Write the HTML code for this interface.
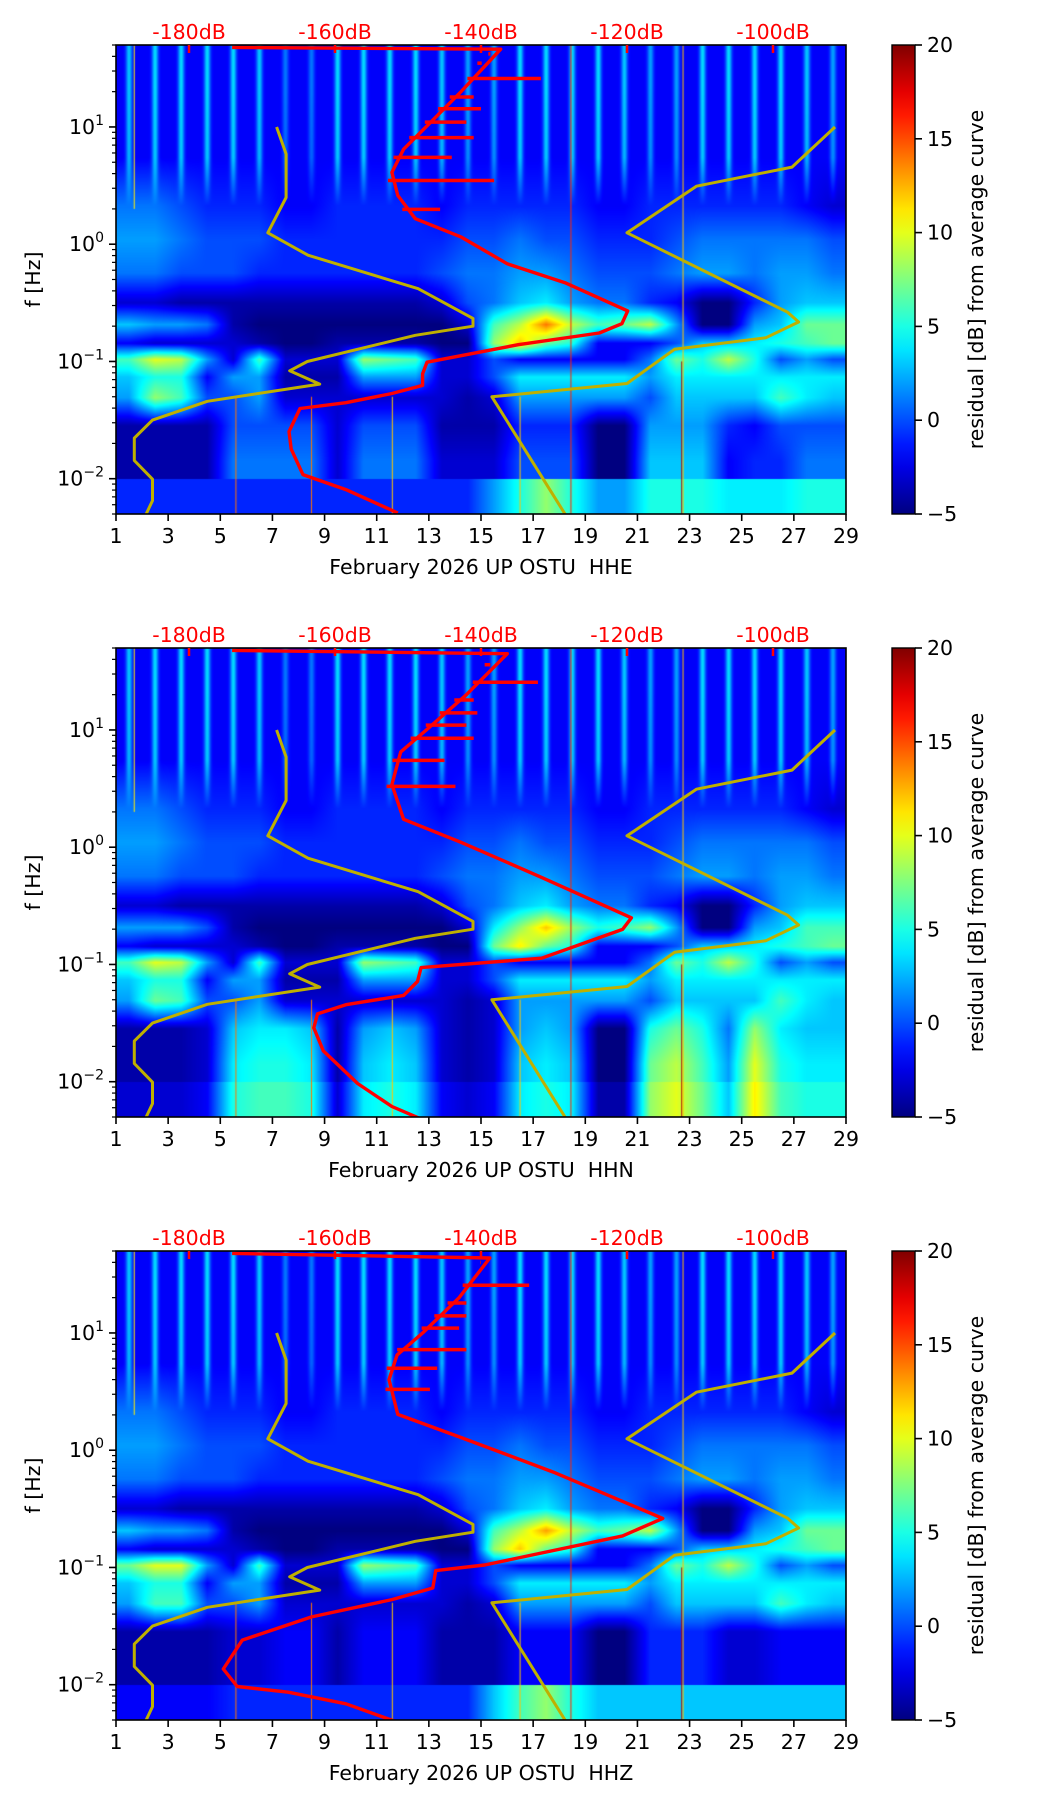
<!DOCTYPE html>
<html><head><meta charset="utf-8">
<style>
html,body{margin:0;padding:0;background:#fff;}
#wrap{position:relative;width:1052px;height:1806px;overflow:hidden;font-family:"DejaVu Sans","Liberation Sans",sans-serif;}
canvas{position:absolute;}
svg{position:absolute;left:0;top:0;}
</style></head>
<body>
<div id="wrap">
<canvas id="c0" width="730" height="469" style="left:116px;top:45px"></canvas>
<canvas id="c1" width="730" height="469" style="left:116px;top:648px"></canvas>
<canvas id="c2" width="730" height="469" style="left:116px;top:1251px"></canvas>
<svg id="svg" width="1052" height="1806"></svg>
</div>
<script>
// ---------- data ----------
const xTickDays = [1,3,5,7,9,11,13,15,17,19,21,23,25,27,29];
const dbTicks = [-180,-160,-140,-120,-100];
const cbTicks = [-5,0,5,10,15,20];
const yTickExp = [-2,-1,0,1];
const components = ["HHE","HHN","HHZ"];
// frequency band edges (Hz) of the coarse residual grid, top to bottom
const rowEdgesHz = [50,10,3,1.5,0.8,0.4,0.25,0.17,0.12,0.09,0.06,0.04,0.02,0.01,0.005];
// daytime cultural noise peak (dB) for 3-50 Hz bands, per day
const dayPeak = [3,3.5,3.5,3.5,3.5,3,1,1,3.5,3.5,3.5,3.5,3,2,2,3.5,3.5,3.5,3.5,3,2,2,3.5,3.5,3.5,3.5,3,2];
const nightBase = -2;
// residual grids (dB), rows 1.5-3Hz ... 0.005-0.01Hz, 28 days each
const gridHHE = [
[1,1,0,-1,-1,-1,-2,-2,-1,-1,-1,-1,-2,-1,-1,-1,-1,-1,-2,-2,-1,-1,-1,-1,-1,-1,-2,-3],
[2,2,1,0,0,0,-1,-1,-1,-1,-1,-1,-1,0,0,1,0,0,-1,-1,-1,0,1,1,1,1,1,0],
[1,1,0,0,0,-1,-1,-1,-1,-1,-1,-1,0,1,1,2,2,1,0,0,0,1,2,2,1,2,2,1],
[-3,-3,-4,-4,-4,-4,-4,-4,-4,-4,-4,-4,-3,0,1,3,4,2,1,1,-1,-2,-5,-5,-1,2,3,3],
[3,2,2,1,-4,-5,-5,-5,-5,-5,-5,-5,-5,-3,6,9,14,9,6,7,9,2,-5,-5,2,3,7,7],
[-2,-3,-3,-3,-3,-4,-5,-5,-4,-4,-4,-4,-5,-5,8,12,7,5,-2,-2,-2,0,3,3,4,5,6,7],
[6,10,9,2,-3,6,-3,-3,-3,8,7,6,-3,-3,0,-2,-2,-2,-2,-2,1,7,5,9,5,0,2,0],
[3,5,5,-2,2,2,-4,-4,-4,2,2,2,-3,-3,0,4,4,4,4,4,2,4,4,4,4,4,4,4],
[2,8,6,0,0,2,-3,-3,-3,-3,-3,-3,-3,-4,-3,2,2,2,2,2,0,3,3,3,3,6,4,3],
[-4,-4,-4,-4,0,0,0,0,-3,0,0,0,-4,-4,-4,-1,-1,-1,-5,-5,2,2,2,-1,-2,0,0,0],
[-4,-4,-4,-4,1,1,1,1,-3,1,1,1,-3,-3,-3,0,0,0,-5,-5,3,3,3,-2,-1,-1,1,1],
[-1,-1,-1,-1,-1,-1,-1,-1,-1,-1,-1,-1,-1,-1,2,5,8,5,2,2,5,5,5,4,4,4,5,5]];
const gridHHN = [
[1,1,0,-1,-1,-1,-2,-2,-1,-1,-1,-1,-2,-1,-1,-1,-1,-1,-2,-2,-1,-1,-1,-1,-1,-1,-2,-3],
[2,2,1,0,0,0,-1,-1,-1,-1,-1,-1,-1,0,0,1,0,0,-1,-1,-1,0,1,1,1,1,1,0],
[1,1,0,0,0,-1,-1,-1,-1,-1,-1,-1,0,1,1,2,2,1,0,0,0,1,2,2,1,2,2,1],
[-3,-3,-4,-4,-4,-4,-4,-4,-4,-4,-4,-4,-3,0,1,3,4,2,1,1,-1,-2,-5,-5,-1,2,3,3],
[2,2,2,0,-4,-5,-5,-5,-5,-5,-5,-5,-5,-3,4,8,12,8,5,6,8,2,-5,-5,2,3,6,6],
[-2,-3,-3,-3,-3,-4,-5,-5,-4,-4,-4,-4,-5,-5,7,11,7,5,-2,-2,-2,0,3,3,4,5,6,7],
[6,10,9,2,-3,6,-3,-3,-3,8,7,6,-3,-3,0,-2,-2,-2,-2,-2,1,7,5,9,5,0,2,0],
[3,5,5,-2,2,2,-4,-4,-4,2,2,2,-3,-3,0,4,4,4,4,4,2,4,4,4,4,4,4,4],
[2,7,6,0,0,2,-3,-3,-3,-3,-3,-3,-3,-4,-3,2,2,2,2,2,0,3,3,3,3,6,4,3],
[-4,-4,-4,-3,3,4,4,3,-4,2,3,2,-3,-4,-3,2,3,2,-5,-5,5,7,5,1,8,4,3,3],
[-4,-4,-4,-3,4,5,5,4,-4,3,4,3,-3,-4,-3,3,4,3,-5,-5,7,9,6,2,10,5,4,4],
[-3,-3,-3,-2,5,6,6,5,-3,4,5,4,-2,-3,-2,4,5,4,-4,-4,8,10,7,3,11,6,5,5]];
const gridHHZ = [
[1,1,0,-1,-1,-1,-2,-2,-1,-1,-1,-1,-2,-1,-1,-1,-1,-1,-2,-2,-1,-1,-1,-1,-1,-1,-2,-3],
[2,2,1,0,0,0,-1,-1,-1,-1,-1,-1,-1,0,0,1,0,0,-1,-1,-1,0,1,1,1,1,1,0],
[1,1,0,0,0,-1,-1,-1,-1,-1,-1,-1,0,1,1,2,2,1,0,0,0,1,2,2,1,2,2,1],
[-3,-3,-4,-4,-4,-4,-4,-4,-4,-4,-4,-4,-3,0,1,3,4,2,1,1,-1,-2,-5,-5,-1,2,3,3],
[3,2,2,1,-4,-5,-5,-5,-5,-5,-5,-5,-5,-3,6,9,13,9,6,7,9,2,-5,-5,2,3,7,7],
[-2,-3,-3,-3,-3,-4,-5,-5,-4,-4,-4,-4,-5,-5,8,12,7,5,-2,-2,-2,0,3,3,4,5,6,7],
[7,10,10,2,-3,6,-3,-3,-3,8,7,6,-3,-3,0,-2,-2,-2,-2,-2,1,7,5,9,5,0,2,0],
[3,5,5,-2,2,2,-4,-4,-4,2,2,2,-3,-3,0,4,4,4,4,4,2,4,4,4,4,4,4,4],
[2,6,6,0,0,2,-3,-3,-3,-3,-3,-3,-3,-4,-3,2,2,2,2,2,0,3,3,3,3,6,4,3],
[-4,-4,-4,-4,-3,-3,-2,-2,-4,-2,-2,-2,-4,-4,-4,-2,-2,-2,-5,-5,-1,-1,-1,-3,-3,-2,-2,-2],
[-4,-4,-4,-4,-3,-3,-2,-2,-4,-2,-2,-2,-4,-4,-4,-2,-2,-2,-5,-5,-1,-1,-1,-3,-3,-2,-2,-2],
[-2,-2,-2,-2,-1,-1,-1,-1,-1,-1,-1,-1,-1,-1,3,6,8,5,3,3,3,3,3,3,3,3,3,3]];
// thin transient streaks: day, fLow, fHigh, dB
const streakDay = [1.7,18.45,22.7,22.75,5.6,11.6,16.5,8.5];
const streakFLo = [2,0.005,0.005,0.005,0.005,0.005,0.005,0.005];
const streakFHi = [50,50,0.1,50,0.05,0.05,0.05,0.05];
const streakDb  = [11,16,19,12,14,12,12,14];
// Peterson noise models
const nlnmHz = [10,5.88,2.5,1.25,0.806,0.417,0.233,0.2,0.167,0.1,0.0833,0.0641,0.0457,0.0316,0.0222,0.0143,0.0099,0.0065,0.00305];
const nlnmDb = [-168,-166.7,-166.7,-169.2,-163.7,-148.6,-141.1,-141.1,-149,-163.8,-166.2,-162.1,-177.5,-185,-187.5,-187.5,-185,-185,-187.5];
const nhnmHz = [10,4.55,3.125,1.25,0.263,0.217,0.159,0.127,0.0649,0.05,0.00282];
const nhnmDb = [-91.5,-97.4,-110.5,-120,-98,-96.5,-101,-113.5,-120,-138.5,-126];
// average PSD curves (dB, Hz)
const redDbHHE = [-174.1,-137.3,-142.7,-147.4,-150.6,-152.2,-151.4,-149.0,-142.7,-136.4,-128.5,-119.9,-120.7,-123.8,-134.9,-147.4,-148.0,-148.0,-152.2,-158.5,-164.8,-166.3,-166.0,-164.4,-158.5,-151.4];
const redHzHHE = [47.7,46,20.1,10.2,6.46,4.1,2.6,1.65,1.15,0.68,0.47,0.27,0.21,0.175,0.139,0.0986,0.0785,0.0625,0.0533,0.0445,0.0397,0.0252,0.0179,0.01085,0.00807,0.0051];
const redDbHHN = [-174.1,-136.4,-142,-147.5,-151,-152.2,-150.6,-142.7,-131.7,-119.4,-120.6,-131.7,-148.2,-148.7,-150.6,-158.5,-162.4,-162.9,-161.6,-156.9,-152.2,-148.5];
const redHzHHN = [47.7,44.7,20,10,6.5,3.42,1.73,1.10,0.553,0.25,0.199,0.113,0.094,0.0716,0.0545,0.0454,0.0379,0.0288,0.0183,0.00966,0.00614,0.00489];
const redDbHHZ = [-174.1,-138.8,-143,-148,-151.5,-152.6,-151.4,-142.7,-130.1,-115.1,-120.6,-139.5,-146.2,-146.6,-152.2,-163.2,-172.7,-175.3,-173.4,-166.4,-158.5,-151.4];
const redHzHHZ = [47.7,43.6,20,10,6.5,4.0,2.02,1.28,0.65,0.262,0.186,0.105,0.094,0.0668,0.0532,0.0379,0.024,0.0136,0.00966,0.00863,0.00687,0.00478];
// horizontal spikes on the averaged curve: frequency, end dB
const spikeHzHHE = [25.9,3.49,8.1,14.3,1.98,35,42,5.5,11,18];
const spikeDbHHE = [-131.8,-138.2,-141,-140,-145.6,-140.5,-139,-144,-142,-141];
const spikeHzHHN = [25.5,3.3,8.5,14,36,5.5,11,18];
const spikeDbHHN = [-132.2,-143.5,-141,-140.5,-139.5,-145,-142,-141];
const spikeHzHHZ = [25.5,3.3,7.2,14,40,5,11,18];
const spikeDbHHZ = [-133.4,-147,-142,-142,-140,-146,-143,-142];

// ---------- layout ----------
const L=116, W=730, H=469, TOPS=[45,648,1251], CBX=892, CBW=23;
const LMAX=Math.log10(50), LMIN=Math.log10(0.005);
const X=d=>L+(d-1)/28*W;
const Yr=f=>(LMAX-Math.log10(f))/(LMAX-LMIN)*H;
const Xdb=db=>L+(db+190)/100*W;
function jet(t){t=Math.max(0,Math.min(1,t));const c=v=>Math.max(0,Math.min(1,v));
 return [c(Math.min(4*t-1.5,-4*t+4.5)),c(Math.min(4*t-0.5,-4*t+3.5)),c(Math.min(4*t+0.5,-4*t+2.5))];}
const jetDb=v=>jet((v+5)/25);
const rgb=a=>`rgb(${Math.round(a[0]*255)},${Math.round(a[1]*255)},${Math.round(a[2]*255)})`;

const grids=[gridHHE,gridHHN,gridHHZ];
const logEdges=rowEdgesHz.map(Math.log10);
const centers=[];for(let i=0;i<logEdges.length-1;i++)centers.push((logEdges[i]+logEdges[i+1])/2);

function rowVal(g,r,dayF){
 const di=Math.min(27,Math.max(0,Math.floor(dayF-1)));
 if(r<2){const frac=dayF-1-di;const gm=Math.exp(-Math.pow((frac-0.5)/0.12,2));
   const pk=dayPeak[di]-(r===1?0.5:0);return nightBase+(pk-nightBase)*gm;}
 const row=g[r-2];const p=dayF-1.5;let i=Math.floor(p);let fr=p-i;
 if(i<0){i=0;fr=0;} if(i>=27){i=27;fr=0;}
 const a=row[i],b=row[Math.min(27,i+1)];return a+(b-a)*fr;
}
grids.forEach((g,pi)=>{
 const cv=document.getElementById('c'+pi),ctx=cv.getContext('2d');
 const img=ctx.createImageData(W,H);const nr=centers.length;
 for(let x=0;x<W;x++){
  const dayF=1+(x+0.5)/W*28;const rv=[];for(let r=0;r<nr;r++)rv.push(rowVal(g,r,dayF));
  for(let y=0;y<H;y++){
   const lf=LMAX-(y+0.5)/H*(LMAX-LMIN);let v;
   if(lf<logEdges[13]) v=rv[13];
   else{ let k=0; while(k<12&&lf<centers[k+1])k++;
     if(lf>=centers[0])v=rv[0]; else if(k>=12)v=rv[12];
     else{const t=(centers[k]-lf)/(centers[k]-centers[k+1]);v=rv[k]+(rv[k+1]-rv[k])*t;}}
   const c=jetDb(v);const o=(y*W+x)*4;
   img.data[o]=c[0]*255;img.data[o+1]=c[1]*255;img.data[o+2]=c[2]*255;img.data[o+3]=255;}
 }
 ctx.putImageData(img,0,0);
 for(let s=0;s<streakDay.length;s++){
  ctx.strokeStyle=rgb(jetDb(streakDb[s]));ctx.lineWidth=1;ctx.beginPath();
  const sx=X(streakDay[s])-L;ctx.moveTo(sx,Yr(streakFHi[s]));ctx.lineTo(sx,Yr(streakFLo[s]));ctx.stroke();}
});

// ---------- svg ----------
const NS='http://www.w3.org/2000/svg';const svg=document.getElementById('svg');
function el(tag,attrs,parent){const e=document.createElementNS(NS,tag);for(const k in attrs)e.setAttribute(k,attrs[k]);(parent||svg).appendChild(e);return e;}
const defs=el('defs',{});
const grad=el('linearGradient',{id:'jetg',x1:0,y1:1,x2:0,y2:0},defs);
for(let i=0;i<=20;i++){el('stop',{offset:i/20,'stop-color':rgb(jet(i/20))},grad);}
const redSets=[[redDbHHE,redHzHHE,spikeDbHHE,spikeHzHHE],[redDbHHN,redHzHHN,spikeDbHHN,spikeHzHHN],[redDbHHZ,redHzHHZ,spikeDbHHZ,spikeHzHHZ]];
const FS=20.5;
TOPS.forEach((T,pi)=>{
 const cp=el('clipPath',{id:'clip'+pi},defs);el('rect',{x:L,y:T,width:W,height:H},cp);
 const g=el('g',{});
 
 
 const Y=f=>T+Yr(f);
 const curves=el('g',{'clip-path':`url(#clip${pi})`},g);
 const ptsN=nlnmHz.map((f,i)=>`${Xdb(nlnmDb[i]).toFixed(1)},${Y(f).toFixed(1)}`).join(' ');
 const n1=el('polyline',{points:ptsN,fill:'none',stroke:'#bfb000',"stroke-width":3,"stroke-linejoin":'round'},curves);
 
 
 const ptsH=nhnmHz.map((f,i)=>`${Xdb(nhnmDb[i]).toFixed(1)},${Y(f).toFixed(1)}`).join(' ');
 const n2=el('polyline',{points:ptsH,fill:'none',stroke:'#bfb000',"stroke-width":3,"stroke-linejoin":'round'},curves);
 
 
 const [rd,rh,sd,sh]=redSets[pi];
 const ptsR=rh.map((f,i)=>`${Xdb(rd[i]).toFixed(1)},${Y(f).toFixed(1)}`).join(' ');
 const rc=el('polyline',{points:ptsR,fill:'none',stroke:'#ff0000',"stroke-width":3.4,"stroke-linejoin":'round'},curves);
 
 
 sh.forEach((f,i)=>{
  let x0=Xdb(rd[1]);for(let k=1;k<rh.length-1;k++){if(f<=rh[k]&&f>=rh[k+1]){const t=(Math.log10(rh[k])-Math.log10(f))/(Math.log10(rh[k])-Math.log10(rh[k+1]));x0=Xdb(rd[k]+(rd[k+1]-rd[k])*t);break;}}
  const sp=el('line',{x1:x0-6,y1:Y(f),x2:Xdb(sd[i]),y2:Y(f),stroke:'#ff0000','stroke-width':3.5},curves);
  
  
 });
 const fr=el('rect',{x:L,y:T,width:W,height:H,fill:'none',stroke:'#000','stroke-width':1.6},g);
 
 
 xTickDays.forEach(d=>{
  el('line',{x1:X(d),y1:T+H,x2:X(d),y2:T+H+7,stroke:'#000','stroke-width':1.6},g);
  const t=el('text',{x:X(d),y:T+H+29,'font-size':FS,'text-anchor':'middle',fill:'#000'},g);t.textContent=d;
  
  
 });
 const xl=el('text',{x:L+W/2,y:T+H+60,'font-size':FS,'text-anchor':'middle',fill:'#000'},g);
 xl.textContent='February 2026 UP OSTU \u00a0'+components[pi];
 
 
 yTickExp.forEach(e=>{
  const y=Y(Math.pow(10,e));
  el('line',{x1:L-7,y1:y,x2:L,y2:y,stroke:'#000','stroke-width':1.6},g);
  const t=el('text',{x:L-12,y:y+7,'font-size':FS,'text-anchor':'end',fill:'#000'},g);
  
  
  const a=el('tspan',{},t);a.textContent='10';
  const b=el('tspan',{dy:-9,'font-size':14},t);b.textContent=e<0?'\u2212'+(-e):String(e);
  for(let m=2;m<=9;m++){const f=m*Math.pow(10,e);if(f<=50){const ym=Y(f);el('line',{x1:L-4,y1:ym,x2:L,y2:ym,stroke:'#000','stroke-width':1.2},g);}}
 });
 [0.005,0.006,0.007,0.008,0.009].forEach(f=>{const ym=Y(f);el('line',{x1:L-4,y1:ym,x2:L,y2:ym,stroke:'#000','stroke-width':1.2},g);});
 const yl=el('text',{x:0,y:0,'font-size':FS,'text-anchor':'middle',fill:'#000',transform:`translate(40,${T+H/2}) rotate(-90)`},g);
 yl.textContent='f [Hz]';
 
 
 dbTicks.forEach(db=>{
  el('line',{x1:Xdb(db),y1:T,x2:Xdb(db),y2:T+8,stroke:'#ff0000','stroke-width':2.5},g);
  const t=el('text',{x:Xdb(db),y:T-6,'font-size':FS,'text-anchor':'middle',fill:'#ff0000'},g);t.textContent=db+'dB';
  
  
 });
 const cb=el('rect',{x:CBX,y:T,width:CBW,height:H,fill:'url(#jetg)',stroke:'#000','stroke-width':1.4},g);
 
 
 cbTicks.forEach(v=>{
  const y=T+H-(v+5)/25*H;
  el('line',{x1:CBX+CBW,y1:y,x2:CBX+CBW+7,y2:y,stroke:'#000','stroke-width':1.6},g);
  const t=el('text',{x:CBX+CBW+12,y:y+7,'font-size':FS,fill:'#000'},g);t.textContent=v<0?'\u2212'+(-v):String(v);
  
  
 });
 const cl=el('text',{x:0,y:0,'font-size':FS,'text-anchor':'middle',fill:'#000',transform:`translate(983,${T+H/2}) rotate(-90)`},g);
 cl.textContent='residual [dB] from average curve';
 
 
});
</script>
</body></html>
